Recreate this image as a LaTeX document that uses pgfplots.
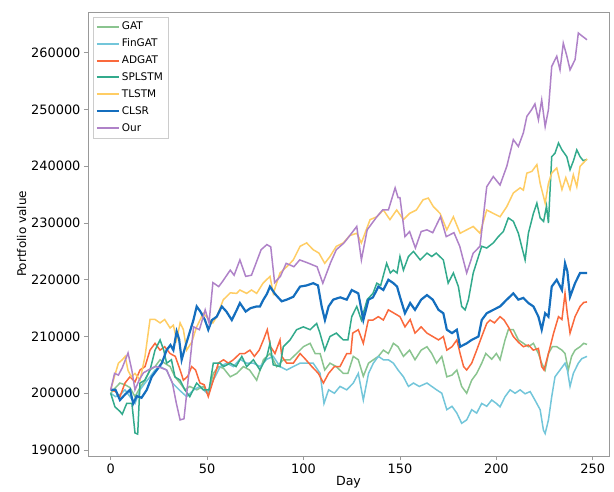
\documentclass[border=0pt]{standalone}
\usepackage{fontspec}
\setmainfont{DejaVu Sans}
\usepackage{pgfplots}
\usepackage{pgfplotstable}
\pgfplotsset{compat=1.18}

\definecolor{cGAT}{RGB}{138,196,143}
\definecolor{cFin}{RGB}{115,198,218}
\definecolor{cAD}{RGB}{250,105,60}
\definecolor{cSP}{RGB}{50,170,140}
\definecolor{cTL}{RGB}{255,205,100}
\definecolor{cCL}{RGB}{20,110,190}
\definecolor{cOur}{RGB}{175,130,200}

\pgfplotstableread{
x y
0 200000
2 200800
4.8 201800
7.4 201500
10 201000
12.6 199400
15.2 201000
17.8 202300
20.4 204100
23 204700
25.6 205900
28 205300
30.8 204700
33.3 202900
36 201800
38.5 200600
41 201200
44.6 200600
48 201200
50.6 200000
53.2 203500
56 204700
58.5 204400
62 202900
65.4 203500
68.8 204700
72 204100
75.7 202300
79.2 205900
82.6 207000
86.1 204700
89.5 205900
93 205900
96.4 207000
99.9 208200
103.4 208800
106 207000
108.6 207000
111 204100
113.7 205300
117 204700
120.6 203500
123 203500
125.8 206500
128.4 205900
131 203000
133.7 205300
136.2 205900
138.8 206500
141.4 207600
144 207000
146.6 208800
149 208200
151.8 206500
155 207600
157.8 205900
161 207600
164 208200
166.5 207000
169 205300
171.7 206500
174.3 202900
177 203200
179.5 204100
182 201200
184.6 200000
187.2 202300
189.8 203500
192.4 205300
194.5 207000
197.6 206000
200 207000
201.9 205900
204.5 209400
206.2 211200
208.8 211200
211.4 209400
214 208800
216.6 208200
219.2 208800
221.8 207000
223.5 205300
225.3 204100
227 207000
229 208200
231.3 208200
234 207600
235.6 207000
237.3 204100
239 206500
240.8 207600
243.4 208200
245.3 208800
247 208600
}\gat

\pgfplotstableread{
x y
0 200000
2.5 199400
5 199800
7.4 200600
10 199400
12.6 198200
15.2 200600
17.8 201800
20.4 202900
23 204100
25.6 204700
29 204100
32 201800
35.5 200600
39.4 199400
43 200600
46.3 201200
50 200000
53.2 202300
56.8 204700
60.1 205300
63.6 204700
67 206000
70.5 205300
74 205300
77.4 204700
81 206000
84.3 206500
87.8 204700
91.3 204100
94.7 204700
98.2 205300
101.6 205300
105 205300
108.6 203500
110.6 198200
113 200600
116 200000
118.9 201200
122.4 200600
125.8 201800
128.4 203500
131 198800
133.7 203500
136.2 205300
138.8 206500
141.4 205900
144 205900
146.6 205300
149 204100
151.8 202900
154.4 201200
157 201800
160 201200
164 201800
166.5 201200
169 200600
171.7 200000
174.3 197100
177 197700
179.5 196500
182 194700
184.6 195300
187.2 197100
189.8 196500
192.4 198200
195 197700
197.6 198800
200 198200
201.9 197600
204.5 199400
207.1 200600
209.7 200000
212.3 200600
214.9 199900
217.5 200300
220 198800
222.7 197100
224.4 193500
225.3 192900
227 195300
228.7 199400
230.4 202900
233 204100
235.6 205300
236.8 204100
238.2 201200
239.9 203500
242.5 205300
244.3 206100
247 206500
}\fingat

\pgfplotstableread{
x y
0 200600
2.5 200300
4.8 199400
7.4 201800
10 202900
12.6 202000
15.2 204100
17.8 204700
20.4 207600
23 208800
25.6 207600
28 208200
30.8 207000
33.5 206500
36 204100
37.7 202300
40 203000
42 204700
44 204100
46.3 201800
48.5 201500
50.6 199400
53.2 202300
55.8 205300
58.5 205900
61 205300
63.6 205900
67 207000
69.5 207000
72.2 207600
74.5 206500
77 207600
79.2 209400
81.2 211200
82.9 208200
85.2 207000
87.8 209400
88.7 206500
91.3 205300
94.7 205300
98.2 207000
101 206000
104.3 204700
107.7 203500
110.3 201800
113 203500
116 204700
118.9 204700
122.4 207000
124.5 207000
125.5 210600
128.4 211200
131 208800
133.6 212900
136 212900
138.8 213500
141.4 212900
144 214700
147 214100
150 213500
152.6 211700
155.3 213000
157.8 210600
161 211700
164 210600
167 210000
170 209400
172.5 210000
174.3 207600
177 208200
179.5 209400
181.2 207000
183 204700
184.6 204100
187.2 205300
189.8 207600
192.4 210000
195 212300
196.7 212900
199 212400
201.9 213500
204 212900
206.2 211700
208.8 210000
211.4 209000
214 208200
216.6 208500
219.2 207600
221.8 207900
223.5 204700
224.7 204100
227 207000
229.6 210500
232.2 213500
234 213000
235.6 217600
236.8 214000
238.2 210600
240.8 213500
243.4 215300
245.3 216000
247 216100
}\adgat

\pgfplotstableread{
x y
0 200000
2.2 197600
4.8 196800
6 196300
8.3 198200
11 198200
12.6 193000
14 192800
15.2 201800
17.7 202300
20.4 204100
23 207600
25.6 209400
27.5 207600
29 205300
31.5 205900
33.3 202900
36 202300
38.5 200600
41 199400
44.6 201800
48 200600
51 200600
53.2 205300
56.8 205300
58.5 204700
62 205300
65 204700
68 206500
70.5 204700
74 205900
77.4 204100
81 206500
82.6 208800
84.3 205000
87.8 204700
89.5 208200
93 209400
96.4 211200
99.9 211700
103.4 211200
106.8 212300
108.5 210600
111 207600
113.7 210000
117 210600
120.6 209400
123 209400
125 213500
127.6 215300
130 212900
133 216500
136 217600
138 219400
140 219000
143.1 222900
145 221200
146.6 221700
148.5 221200
150 224100
151.8 221700
154.4 224100
157 225000
160.5 223500
164 224700
166.5 224100
168.8 224700
172.5 223500
175 219400
177.7 221200
180.3 218800
182 215300
183.8 214700
185.5 216500
188 221200
190.7 224100
192.4 225900
195 225600
198.4 226500
201 227600
203.6 228500
206.2 230900
208.8 230300
211.4 228200
213.1 225900
214.9 223500
216.6 228200
219.2 231700
221 233500
222.7 230900
224.5 230300
226 233000
227 230000
228.7 241700
230.4 242300
232.2 244100
234 242900
236.5 241700
238.2 239400
240 241000
241.7 242900
243.4 241700
245 241000
247 241200
}\splstm

\pgfplotstableread{
x y
0 200600
2 203000
4 205300
6 205900
7.5 206500
9 204000
10.7 202900
12.6 203500
15.2 202300
17.8 206500
20.4 213000
23 213000
25.6 212400
28 213000
30.8 211500
32.5 212000
34.2 209400
36 212400
37.7 211200
39.4 207600
42 209000
44.6 211700
48 214100
51 213000
53 212400
55 213500
58.4 216500
60 217000
62 217700
65.3 217600
67 218200
70.5 217600
73 218200
75.7 217600
79 219400
82.6 220600
84.3 217600
87.8 221200
91.3 222300
94.7 223500
98.2 225900
101.6 226500
105 225300
108 224700
111 222900
113.7 224100
117 225900
120.6 226500
124 227800
127.6 228200
130 226500
134.5 230600
138 231100
141.4 232300
144.8 230600
148.3 232300
151.8 230600
155 231700
158.5 232300
162 234100
164.7 234400
167.3 232900
170.8 231700
174.3 228800
177.7 231100
181.2 228200
184.6 228800
188 229400
191.5 228200
195 232300
198.4 231700
201.9 231100
205.4 232900
208.8 235300
212.3 236200
214 235800
215.8 238800
218.4 239100
221 240300
222.7 237000
225.3 233500
227 237000
228.7 238800
231.3 239700
234 235900
236 238000
238.2 235900
239.9 238500
241.7 236400
243.4 240000
246.5 241100
247 241300
}\tlstm

\pgfplotstableread{
x y
0 200600
2.5 200600
4.8 198800
7.5 199800
10 200600
11.7 198200
13.5 199500
16 199200
18.7 200600
21.3 202900
23.9 204100
26.5 205300
29 207600
31 208500
32.5 207600
34.2 210900
35.5 209500
36.8 205900
38.5 208000
40.3 210000
42.9 212900
44.6 215300
46.5 214400
48.9 212900
50.6 211200
52.5 212900
55 213500
57.6 215300
60 214400
62.8 212900
65.4 214700
67 215900
70 214400
72.5 215000
75.7 215300
77.4 215300
79.2 216500
81 217500
82.6 218800
85.2 217500
88.7 216200
91.3 216500
94.7 217000
98.2 218800
101.6 219000
105 219400
107.5 219000
109.4 215300
111.1 212900
113 215300
115.4 216500
119 216900
122.4 216500
125 218200
128.4 217600
131 212900
133.7 216500
136 216900
138.8 218800
141.4 218200
144 220000
146.6 219400
148.5 218800
150 217000
152.6 214100
155.3 215900
157.8 214700
161 216500
164 217300
167 216500
170 214700
172.5 214100
174.3 211200
177 210600
179.5 211200
181.2 208200
184.6 208800
187.2 209400
190.7 210000
192.4 212900
195 214100
198.4 214700
201.9 215300
205.4 216500
208.8 217600
211.4 216500
214 216800
216.6 215900
219.2 215300
221.8 213500
223.5 211200
225.3 214100
227 213500
228.7 218800
231.3 220000
234 218200
235.6 222900
236.8 221500
238.2 217000
240.8 219400
243.4 221200
247 221200
}\clsr

\pgfplotstableread{
x y
0 200600
2 203500
4 203200
6 204500
9 207100
11 204000
12.6 200600
15 202500
17 203600
20 204200
23 204700
26 204500
29 204100
32 201800
34 198300
36 195300
38 195500
40 201800
43 211700
46 211200
49 214700
51 212400
53 219500
56 218800
58 219700
62 221700
64 220800
67 223500
70 220600
73 220800
76 223500
78 225300
81 226200
83 225800
85 219500
88 220600
91 222900
95 222300
98 223500
102 223000
107 222300
110 219400
114 223000
117 225300
121 226500
124 227800
127.6 229400
130 223500
133 228800
138 231100
141 232300
144 232300
147.5 236200
149 234500
150 234500
152.6 227600
155 228500
158 225600
161 228500
164 228800
167 228300
171 231100
174 227600
178 228300
181 225900
184.6 221200
188 224700
191.5 225900
195 236400
198.4 238200
201.9 236700
205.4 240000
208.8 244700
211.4 243500
214 245900
215.8 248800
218.3 250000
220 251000
221.8 248200
223.5 251700
225.3 247000
227 250000
228.7 257600
231.3 259400
233 257000
234.7 261700
236.5 259500
238.2 257000
240.8 258800
242.5 263500
244.3 263000
247 262300
}\our

\begin{document}
\begin{tikzpicture}
\useasboundingbox (-88pt,-36pt) rectangle (526pt,456pt);
\begin{axis}[
  at={(0pt,0pt)}, anchor=south west,
  width=521pt, height=444pt, scale only axis,
  xmin=-11.77, xmax=258.4,
  ymin=188940, ymax=267200,
  xtick={0,50,100,150,200,250},
  ytick={190000,200000,210000,220000,230000,240000,250000,260000},
  scaled y ticks=false,
  /pgf/number format/assume math mode=true,
  yticklabel style={/pgf/number format/fixed,/pgf/number format/1000 sep={}},
  xticklabel style={/pgf/number format/1000 sep={}},
  tick label style={font=\fontsize{12.9}{15}\selectfont},
  tick align=outside, tick pos=left,
  major tick length=4pt,
  axis line style={black!40, line width=0.9pt},
  every tick/.style={black!40, line width=0.9pt},
  xlabel={Day}, ylabel={Portfolio value},
  every axis x label/.style={at={(axis description cs:0.5,-0.0601)}, anchor=center,
    font=\fontsize{12.6}{15}\selectfont},
  every axis y label/.style={at={(axis description cs:-0.1273,0.5)}, anchor=center, rotate=90,
    font=\fontsize{12}{14}\selectfont},
  legend cell align=left,
  legend style={at={(axis description cs:0.009,0.9894)}, anchor=north west,
    draw=black!20, fill=white,
    font=\fontsize{10.5}{12}\selectfont,
    inner xsep=3pt, inner ysep=3pt, row sep=3.6pt},
  legend image code/.code={\draw[#1] (0pt,0pt) -- (22pt,0pt);},
  legend image post style={line width=2pt},
]
\addplot[color=cGAT, line width=1.5pt] table {\gat};
\addplot[color=cFin, line width=1.5pt] table {\fingat};
\addplot[color=cAD, line width=1.5pt] table {\adgat};
\addplot[color=cSP, line width=1.5pt] table {\splstm};
\addplot[color=cTL, line width=1.5pt] table {\tlstm};
\addplot[color=cCL, line width=2.2pt] table {\clsr};
\addplot[color=cOur, line width=1.5pt] table {\our};
\legend{GAT,FinGAT,ADGAT,SPLSTM,TLSTM,CLSR,Our}
\end{axis}
\end{tikzpicture}
\end{document}
